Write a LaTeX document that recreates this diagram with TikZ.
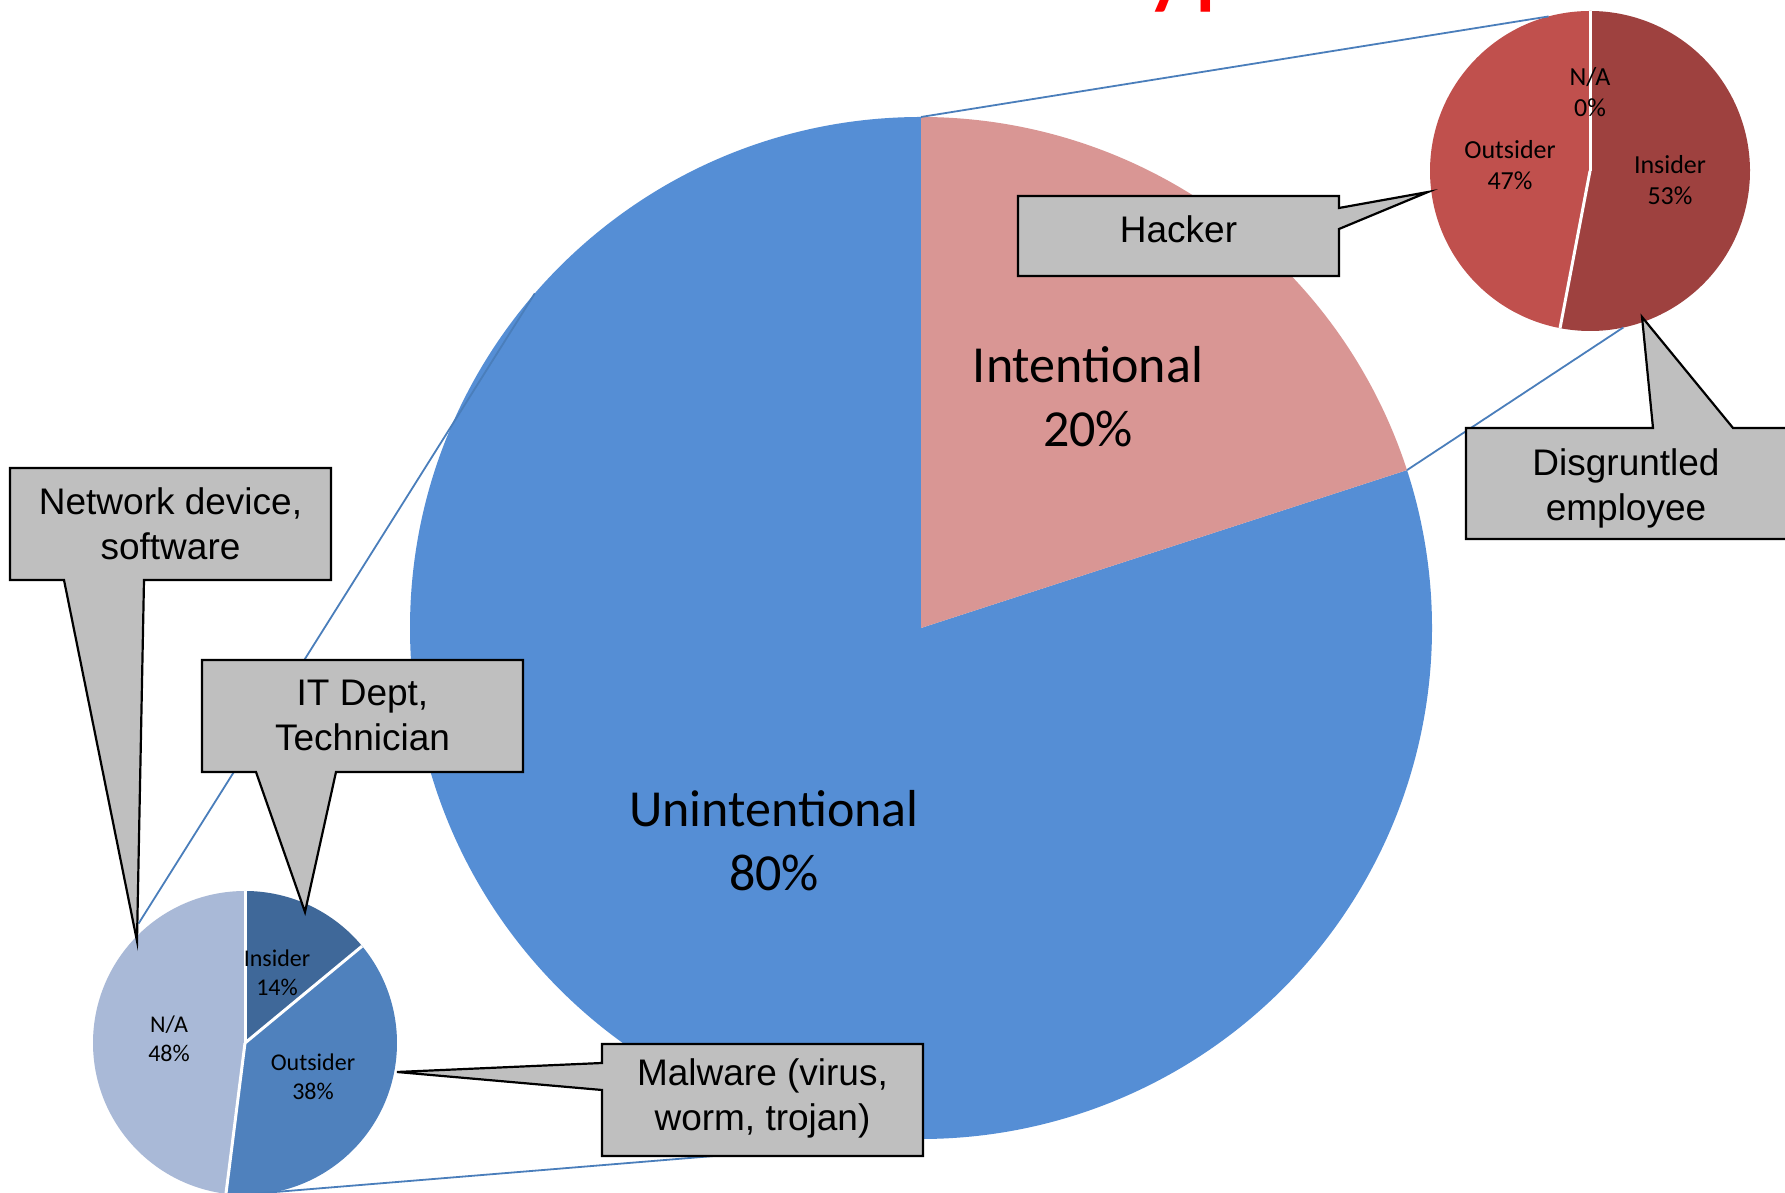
\documentclass[tikz,border=0pt]{standalone}
\usepackage{fontspec}
\newfontfamily\chartfont{Carlito}
\newfontfamily\calloutfont{Liberation Sans}
\usetikzlibrary{calc}

\definecolor{unintblue}{HTML}{558ED5}
\definecolor{intpink}{HTML}{D99694}
\definecolor{insred}{HTML}{9E413F}
\definecolor{outred}{HTML}{C0504D}
\definecolor{insblue}{HTML}{3F6899}
\definecolor{outblue}{HTML}{4F81BD}
\definecolor{nablue}{HTML}{A9B9D7}
\definecolor{linkblue}{HTML}{4A7EBB}
\definecolor{calloutgray}{HTML}{BFBFBF}
\definecolor{titlered}{HTML}{FF0000}

\pgfdeclarelayer{pielayer}
\pgfdeclarelayer{calloutlayer}
\pgfsetlayers{pielayer,calloutlayer,main}

\tikzset{
  bigpct/.style={align=center, font=\chartfont\fontsize{52}{64}\selectfont, inner sep=0pt},
  smallpct/.style={align=center, font=\chartfont\fontsize{26}{31}\selectfont, inner sep=0pt},
  tinypct/.style={align=center, font=\chartfont\fontsize{24}{29.5}\selectfont, inner sep=0pt},
  cbox/.style={rectangle, draw=none, inner sep=0pt, outer sep=0pt},
  ctext/.style={align=center, font=\calloutfont\fontsize{37}{45}\selectfont, inner sep=0pt},
  callout/.style={fill=calloutgray, draw=black, line width=2.2pt, line join=miter},
  link/.style={draw=linkblue, line width=1.8pt},
  slicegap/.style={draw=white, line width=3pt},
}

\begin{document}
\begin{tikzpicture}[x=1pt, y=1pt]
\useasboundingbox (0,0) rectangle (1785,1193);

% centres of the three pies
\coordinate (mainc) at (921,565);
\coordinate (intc) at (1590,1022);
\coordinate (unc) at (245,150);

\begin{pgfonlayer}{pielayer}
  \fill[white] (0,0) rectangle (1785,1193);

  % main pie: 80 % unintentional, 20 % intentional
  \fill[unintblue] (mainc) -- ++(90:511pt) arc[start angle=90, end angle=378, radius=511pt] -- cycle;
  \fill[intpink] (mainc) -- ++(18:511pt) arc[start angle=18, end angle=90, radius=511pt] -- cycle;

  % breakdown of the intentional share
  \fill[insred] (intc) -- ++(-100.8:160pt) arc[start angle=-100.8, end angle=90, radius=160pt] -- cycle;
  \fill[outred] (intc) -- ++(90:160pt) arc[start angle=90, end angle=259.2, radius=160pt] -- cycle;
  \draw[slicegap] (intc) -- ++(90:160pt);
  \draw[slicegap] (intc) -- ++(-100.8:160pt);

  % breakdown of the unintentional share
  \fill[insblue] (unc) -- ++(39.6:152pt) arc[start angle=39.6, end angle=90, radius=152pt] -- cycle;
  \fill[outblue] (unc) -- ++(-97.2:152pt) arc[start angle=-97.2, end angle=39.6, radius=152pt] -- cycle;
  \fill[nablue] (unc) -- ++(90:152pt) arc[start angle=90, end angle=262.8, radius=152pt] -- cycle;
  \draw[slicegap] (unc) -- ++(90:152pt);
  \draw[slicegap] (unc) -- ++(39.6:152pt);
  \draw[slicegap] (unc) -- ++(-97.2:152pt);

  % series lines joining the main pie to the two breakdowns
  \coordinate (mtop) at ($(mainc)+(90:511pt)$);
  \coordinate (msplit) at ($(mainc)+(18:511pt)$);
  \coordinate (mleft) at ($(mainc)+(139.1:511pt)$);
  \coordinate (mbottom) at ($(mainc)+(-90:511pt)$);
  \coordinate (itop) at ($(intc)+(105:160pt)$);
  \coordinate (ibottom) at ($(intc)+(-78:160pt)$);
  \coordinate (utop) at ($(unc)+(131.7:160pt)$);
  \coordinate (ubottom) at ($(unc)+(-92:152pt)$);
  \draw[link] (mtop) -- (itop);
  \draw[link] (msplit) -- (ibottom);
  \draw[link] (mleft) -- (utop);
  \draw[link] (ubottom) -- (mbottom);
\end{pgfonlayer}

% partly visible heading at the top edge
\node[anchor=base west, text=titlered, inner sep=0pt,
      font=\chartfont\fontsize{110}{130}\selectfont] (title) at (1095,1198) {Types};

% slice labels
\node[bigpct] (intlbl) at (1088,796) {Intentional\\20\%};
\node[bigpct] (unlbl) at (774,352) {Unintentional\\80\%};
\node[smallpct] (inana) at (1590,1101) {N/A\\0\%};
\node[smallpct] (inout) at (1510,1028) {Outsider\\47\%};
\node[smallpct] (inins) at (1670,1013) {Insider\\53\%};
\node[tinypct] (unins) at (277,220) {Insider\\14\%};
\node[tinypct] (unout) at (313,116) {Outsider\\38\%};
\node[tinypct] (unna) at (169,154) {N/A\\48\%};

% callout frames
\node[cbox, minimum width=321pt, minimum height=80pt] (hackbox) at (1178.5,957) {};
\node[cbox, minimum width=321pt, minimum height=111pt] (disbox) at (1626.5,709.5) {};
\node[cbox, minimum width=321pt, minimum height=112pt] (netbox) at (170.5,669) {};
\node[cbox, minimum width=321pt, minimum height=112pt] (itbox) at (362.5,477) {};
\node[cbox, minimum width=321pt, minimum height=112pt] (malbox) at (762.5,93) {};

% callout tips
\coordinate (hacktip) at (1428,1001);
\coordinate (distip) at (1642,876);
\coordinate (nettip) at (137,252);
\coordinate (ittip) at (305,281);
\coordinate (maltip) at (397,121);

\begin{pgfonlayer}{calloutlayer}
  \draw[callout] (hackbox.south west) -- (hackbox.north west) -- (hackbox.north east)
    -- (1339,985) -- (hacktip) -- (1339,964) -- (hackbox.south east) -- cycle;
  \draw[callout] (disbox.south west) -- (disbox.north west) -- (1653,765) -- (distip)
    -- (1733,765) -- (disbox.north east) -- (disbox.south east) -- cycle;
  \draw[callout] (netbox.north west) -- (netbox.north east) -- (netbox.south east)
    -- (144,613) -- (nettip) -- (64,613) -- (netbox.south west) -- cycle;
  \draw[callout] (itbox.north west) -- (itbox.north east) -- (itbox.south east)
    -- (336,421) -- (ittip) -- (256,421) -- (itbox.south west) -- cycle;
  \draw[callout] (malbox.north west) -- (malbox.north east) -- (malbox.south east)
    -- (malbox.south west) -- (602,103) -- (maltip) -- (602,130) -- cycle;
\end{pgfonlayer}

% callout texts
\node[ctext] (hacktext) at (1178.5,964) {Hacker};
\node[ctext] (distext) at (1626,705) {Disgruntled\\employee};
\node[ctext] (nettext) at (170.5,669.5) {Network device,\\software};
\node[ctext] (ittext) at (362.5,477.5) {IT Dept,\\Technician};
\node[ctext] (maltext) at (762.5,94.5) {Malware (virus,\\worm, trojan)};
\end{tikzpicture}
\end{document}
